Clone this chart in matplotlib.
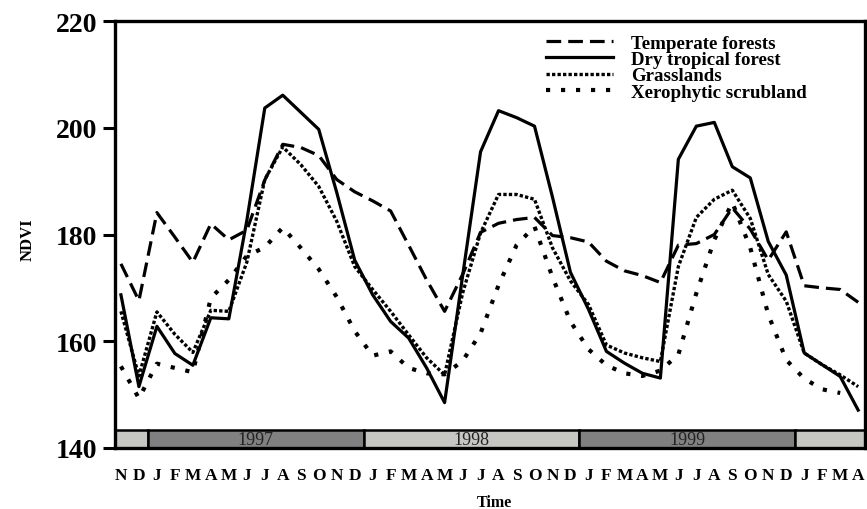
import numpy as np
import matplotlib
matplotlib.use("Agg")
import matplotlib.pyplot as plt

months = ["N", "D"] + ["J", "F", "M", "A", "M", "J", "J", "A", "S", "O", "N", "D"] * 3 + ["J", "F", "M", "A"]
years = ["1997", "1998", "1999"]

temperate = [174.5, 167.6, 184.1, 179.5, 174.8, 182.0, 179.0, 180.8, 190.2, 196.9,
             196.3, 194.8, 190.3, 188.0, 186.3, 184.4, 178.0, 171.5, 165.6, 172.5,
             180.4, 182.1, 182.8, 183.2, 179.8, 179.4, 178.6, 175.0, 173.2, 172.3,
             171.0, 178.0, 178.3, 180.0, 185.0, 181.0, 175.2, 180.5, 170.4, 170.0,
             169.7, 167.3]
dry_tropical = [168.7, 151.5, 162.8, 157.7, 155.5, 164.4, 164.2, 182.6, 203.7, 206.1,
                202.9, 199.7, 187.9, 175.2, 168.7, 163.7, 160.6, 155.0, 148.5, 172.2,
                195.5, 203.2, 201.9, 200.3, 187.0, 172.9, 166.0, 158.1, 155.9, 154.0,
                153.1, 194.1, 200.3, 201.0, 192.7, 190.6, 178.7, 172.4, 157.8, 155.6,
                153.4, 147.1]
grasslands = [165.6, 153.5, 165.5, 161.3, 157.9, 165.8, 165.6, 174.8, 190.3, 196.4,
              193.1, 189.0, 182.5, 174.0, 169.7, 165.6, 161.2, 156.9, 153.7, 169.0,
              180.3, 187.5, 187.5, 186.6, 177.5, 171.3, 166.9, 159.3, 157.8, 156.9,
              156.2, 174.0, 183.2, 186.6, 188.3, 183.0, 172.5, 167.5, 157.8, 155.6,
              153.7, 151.5]
xerophytic = [155.3, 149.3, 155.8, 155.0, 154.2, 168.1, 171.5, 176.0, 177.6, 181.3,
              177.5, 173.5, 168.3, 161.9, 157.3, 158.1, 155.0, 154.0, 153.8, 156.3,
              161.5, 170.5, 178.0, 181.5, 172.0, 163.7, 158.5, 155.5, 154.0, 153.5,
              154.5, 157.5, 169.0, 179.0, 186.0, 177.5, 165.0, 156.5, 153.0, 151.0,
              150.3, np.nan]

plt.rcParams['font.family'] = ['Liberation Serif', 'DejaVu Serif']

fig = plt.figure(figsize=(8.67, 5.10), dpi=100)
ax = fig.add_axes([115 / 867, 1 - 449 / 510, 750 / 867, 427 / 510])

x = np.arange(len(months))
ax.plot(x, temperate, color='black', lw=2.3, linestyle=(0, (4.6, 2.2)), label='Temperate forests')
ax.plot(x, dry_tropical, color='black', lw=2.3, linestyle='-', label='Dry tropical forest')
ax.plot(x, grasslands, color='black', lw=2.4, linestyle=(0, (1, 0.65)), label='Grasslands')
ax.plot(x, xerophytic, color='black', lw=3.0, linestyle=(0, (1, 2.6)), label='Xerophytic scrubland')

xmin, xmax = -0.33, 41.38
ax.set_xlim(xmin, xmax)
ax.set_ylim(140, 220)

# year band
edges = [xmin, 1.5, 13.5, 25.5, 37.5, xmax]
band_labels = [""] + years + [""]
light, dark = '#c6c6c2', '#808080'
for i in range(len(edges) - 1):
    col = light if i % 2 == 0 else dark
    ax.bar(edges[i], 3.4, width=edges[i + 1] - edges[i], bottom=140, align='edge',
           color=col, edgecolor='black', linewidth=1.8, zorder=4)
    if band_labels[i]:
        ax.text((edges[i] + edges[i + 1]) / 2, 141.6, band_labels[i], ha='center', va='center',
                fontsize=13, color='#222222', zorder=5)

for s in ax.spines.values():
    s.set_linewidth(2.4)
    s.set_zorder(6)

ax.set_yticks([140, 160, 180, 200, 220])
ax.tick_params(axis='y', direction='out', length=9, width=2.2, labelsize=20, pad=4)
for lbl in ax.get_yticklabels():
    lbl.set_fontweight('bold')
ax.set_xticks(x)
ax.set_xticklabels(months, fontweight='bold', fontsize=12.5)
ax.tick_params(axis='x', length=0, pad=14)

fig.text(28 / 867, 1 - 240 / 510, 'NDVI', rotation=90, ha='center', va='center',
         fontsize=12, fontweight='bold')
fig.text(494 / 867, 1 - 503 / 510, 'Time', ha='center', va='center',
         fontsize=11.5, fontweight='bold')

leg = ax.legend(loc='upper left', bbox_to_anchor=(537 / 867, 1 - 26 / 510),
                bbox_transform=fig.transFigure, frameon=False, borderpad=0,
                handlelength=3.5, handletextpad=1.0, labelspacing=-0.05,
                prop={'weight': 'bold', 'size': 13.6})

fig.savefig('out.png', dpi=100)
